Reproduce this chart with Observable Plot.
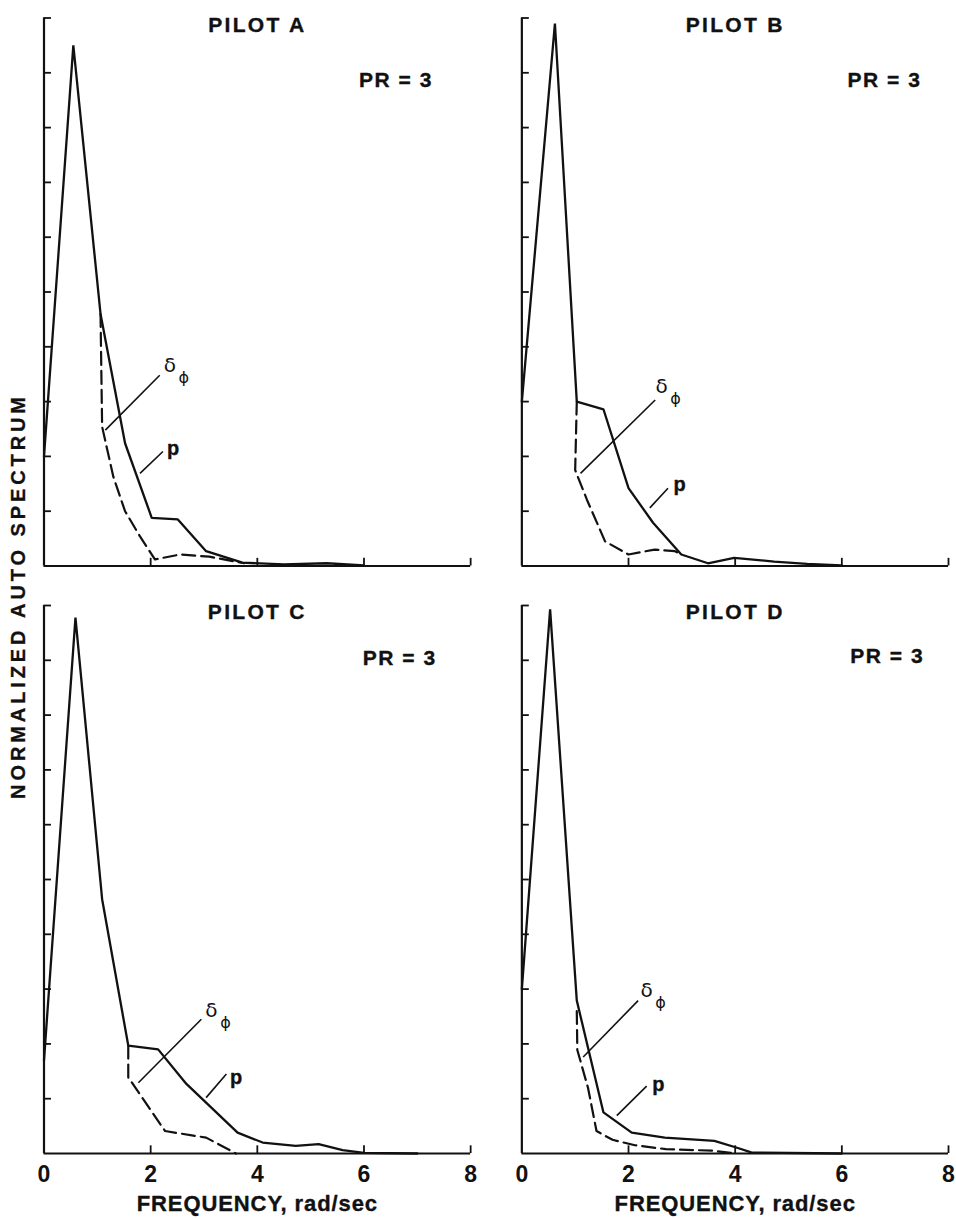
<!DOCTYPE html>
<html>
<head>
<meta charset="utf-8">
<script src="https://cdn.jsdelivr.net/npm/d3@7"></script>
<script src="https://cdn.jsdelivr.net/npm/@observablehq/plot@0.6"></script>
<style>
  html, body { margin: 0; padding: 0; background: #fff; }
  #wrap { position: relative; width: 956px; height: 1219px; overflow: hidden; }
  #ylab {
    position: absolute; left: 18px; top: 596px;
    transform: translate(-50%, -50%) rotate(-90deg);
    font: bold 20px "Liberation Sans", Arial, sans-serif;
    letter-spacing: 3.9px; white-space: nowrap; color: #111;
    -webkit-text-stroke: 0.3px #111;
  }
  #chart { position: absolute; left: 0; top: 0; }
</style>
</head>
<body>
<div id="wrap">
  <div id="chart"></div>
  <div id="ylab">NORMALIZED AUTO SPECTRUM</div>
</div>
<script>
// ---- categories / labels ----
const pilots = ["PILOT A", "PILOT B", "PILOT C", "PILOT D"];
const panelCols = ["L", "R", "L", "R"];
const panelRows = ["T", "T", "B", "B"];
const prLabel = "PR = 3";
const xLabel = "FREQUENCY, rad/sec";
const xTickValues = [0, 2, 4, 6, 8];
const xTickMarks = [2, 4, 6, 8];
const yTickValues = [1, 2, 3, 4, 5, 6, 7, 8, 9, 10];

// ---- series: roll rate p (solid) ----
const pA = [[0,2.0],[0.55,9.5],[1.06,4.6],[1.52,2.24],[2.02,0.88],[2.51,0.85],[3.04,0.27],[3.72,0.06],[4.5,0.03],[5.3,0.05],[6.0,0.01]];
const pB = [[0,3.0],[0.62,9.9],[1.03,3.0],[1.53,2.86],[2.0,1.42],[2.46,0.79],[2.99,0.21],[3.49,0.05],[3.98,0.15],[4.73,0.08],[5.35,0.04],[6.0,0.01]];
const pC = [[0,1.7],[0.59,9.78],[1.09,4.64],[1.58,1.97],[2.14,1.9],[2.67,1.27],[3.63,0.38],[4.1,0.2],[4.72,0.14],[5.15,0.17],[5.6,0.06],[6.0,0.01],[7.0,0.0]];
const pD = [[0,3.0],[0.53,9.93],[1.03,2.79],[1.53,0.75],[2.06,0.38],[2.68,0.29],[3.61,0.23],[4.05,0.1],[4.3,0.02],[6.0,0.0]];

// ---- series: lateral stick deflection delta-phi (dashed) ----
const dA = [[1.06,4.6],[1.09,2.54],[1.3,1.63],[1.52,1.0],[1.8,0.54],[2.08,0.12],[2.55,0.21],[3.1,0.17],[3.75,0.05]];
const dB = [[1.03,3.0],[1.0,1.75],[1.22,1.21],[1.56,0.45],[2.0,0.21],[2.49,0.3],[2.87,0.27],[2.99,0.21]];
const dC = [[1.58,1.97],[1.58,1.39],[2.27,0.41],[3.04,0.29],[3.6,0.0]];
const dD = [[1.03,2.6],[1.04,1.89],[1.24,1.2],[1.4,0.41],[1.7,0.25],[2.12,0.15],[2.7,0.08],[3.6,0.05],[4.0,0.0]];

// ---- annotation anchors (data coordinates) ----
const prPos = [[6.6,8.86],[6.8,8.86],[6.67,9.04],[6.85,9.07]];
const deltaPos = [[2.36,3.66],[2.62,3.27],[3.14,2.6],[2.34,2.97]];
const deltaLeader = [[2.17,3.48,1.15,2.48],[2.5,3.03,1.1,1.69],[2.95,2.45,1.77,1.29],[2.18,2.79,1.15,1.76]];
const pPos = [[2.42,2.15],[2.96,1.48],[3.6,1.39],[2.56,1.26]];
const pLeader = [[2.23,2.09,1.8,1.69],[2.74,1.42,2.4,1.06],[3.42,1.45,3.04,1.02],[2.34,1.23,1.78,0.69]];

// ---- build tables ----
const solidSeries = [pA, pB, pC, pD];
const dashSeries = [dA, dB, dC, dD];
const solidRows = [], dashRows = [], panels = [];
pilots.forEach((name, i) => {
  const col = panelCols[i], row = panelRows[i];
  solidSeries[i].forEach(([x, y]) => solidRows.push({pilot: name, col, row, x, y}));
  dashSeries[i].forEach(([x, y]) => dashRows.push({pilot: name, col, row, x, y}));
  panels.push({
    pilot: name, col, row,
    prx: prPos[i][0], pry: prPos[i][1],
    dx0: deltaPos[i][0], dy0: deltaPos[i][1],
    dlx1: deltaLeader[i][0], dly1: deltaLeader[i][1], dlx2: deltaLeader[i][2], dly2: deltaLeader[i][3],
    px0: pPos[i][0], py0: pPos[i][1],
    plx1: pLeader[i][0], ply1: pLeader[i][1], plx2: pLeader[i][2], ply2: pLeader[i][3]
  });
});
const bottomPanels = panels.filter(d => d.row === "B");

const ink = "#111";
const sans = "'Liberation Sans', Arial, Helvetica, sans-serif";
const heavy = {fill: ink, stroke: ink, strokeWidth: 0.35};

const chart = Plot.plot({
  width: 956,
  height: 1219,
  marginLeft: 43.5,
  marginRight: 8,
  marginTop: 17.5,
  marginBottom: 66,
  x: {domain: [0, 8], axis: null},
  y: {domain: [0, 10], axis: null},
  fx: {domain: ["L", "R"], paddingInner: 0.10716, paddingOuter: 0, round: false, axis: null},
  fy: {domain: ["T", "B"], paddingInner: 0.06723, paddingOuter: 0, round: false, axis: null},
  style: {background: "transparent", fontFamily: sans, color: ink, overflow: "visible"},
  marks: [
    // axis lines
    Plot.ruleX([0], {stroke: ink, strokeWidth: 2.2}),
    Plot.ruleY([0], {stroke: ink, strokeWidth: 2.2}),
    // inward tick marks
    Plot.ruleY(yTickValues, {x1: 0, x2: 0.14, stroke: ink, strokeWidth: 1.8}),
    Plot.ruleX(xTickMarks, {y1: 0, y2: 0.14, stroke: ink, strokeWidth: 1.8}),
    // tick labels (bottom row only)
    Plot.axisX(xTickValues, {
      anchor: "bottom", tickSize: 0, tickPadding: 12, label: null,
      tickFormat: d => String(d), fontSize: 23, fontWeight: "bold", ...heavy
    }),
    // data
    Plot.line(solidRows, {x: "x", y: "y", z: "pilot", fx: "col", fy: "row",
      stroke: ink, strokeWidth: 2.3, strokeLinejoin: "miter", curve: "linear"}),
    Plot.line(dashRows, {x: "x", y: "y", z: "pilot", fx: "col", fy: "row",
      stroke: ink, strokeWidth: 2.2, strokeDasharray: "13,6", curve: "linear"}),
    // leaders
    Plot.link(panels, {fx: "col", fy: "row", x1: "dlx1", y1: "dly1", x2: "dlx2", y2: "dly2", stroke: ink, strokeWidth: 1.6}),
    Plot.link(panels, {fx: "col", fy: "row", x1: "plx1", y1: "ply1", x2: "plx2", y2: "ply2", stroke: ink, strokeWidth: 1.6}),
    // series labels
    Plot.text(panels, {fx: "col", fy: "row", x: "dx0", y: "dy0", text: () => "δ",
      fontSize: 20, fontFamily: "'DejaVu Sans', sans-serif", fill: ink}),
    Plot.text(panels, {fx: "col", fy: "row", x: "dx0", y: "dy0", dx: 14, dy: 12, text: () => "ϕ",
      fontSize: 16, fontFamily: "'DejaVu Sans', sans-serif", fill: ink}),
    Plot.text(panels, {fx: "col", fy: "row", x: "px0", y: "py0", text: () => "p",
      fontSize: 20, fontWeight: "bold", ...heavy}),
    // panel titles
    Plot.text(panels, {fx: "col", fy: "row", frameAnchor: "top", lineAnchor: "middle", dy: 7,
      text: "pilot", fontSize: 21, fontWeight: "bold", ...heavy}),
    Plot.text(panels, {fx: "col", fy: "row", x: "prx", y: "pry", text: () => prLabel,
      fontSize: 21, fontWeight: "bold", ...heavy}),
    // x-axis titles
    Plot.text(bottomPanels, {fx: "col", fy: "row", frameAnchor: "bottom", lineAnchor: "middle", dy: 50,
      text: () => xLabel, fontSize: 22, fontWeight: "bold", ...heavy})
  ]
});

// letter spacing to mimic the typeset lettering
d3.select(chart).selectAll("text").each(function() {
  const t = this.textContent;
  if (/^PILOT/.test(t)) this.style.letterSpacing = "2.3px";
  if (/^PR =/.test(t)) this.style.letterSpacing = "1.5px";
  if (/^FREQUENCY/.test(t)) this.style.letterSpacing = "0.9px";
});
document.getElementById("chart").appendChild(chart);
</script>
</body>
</html>
